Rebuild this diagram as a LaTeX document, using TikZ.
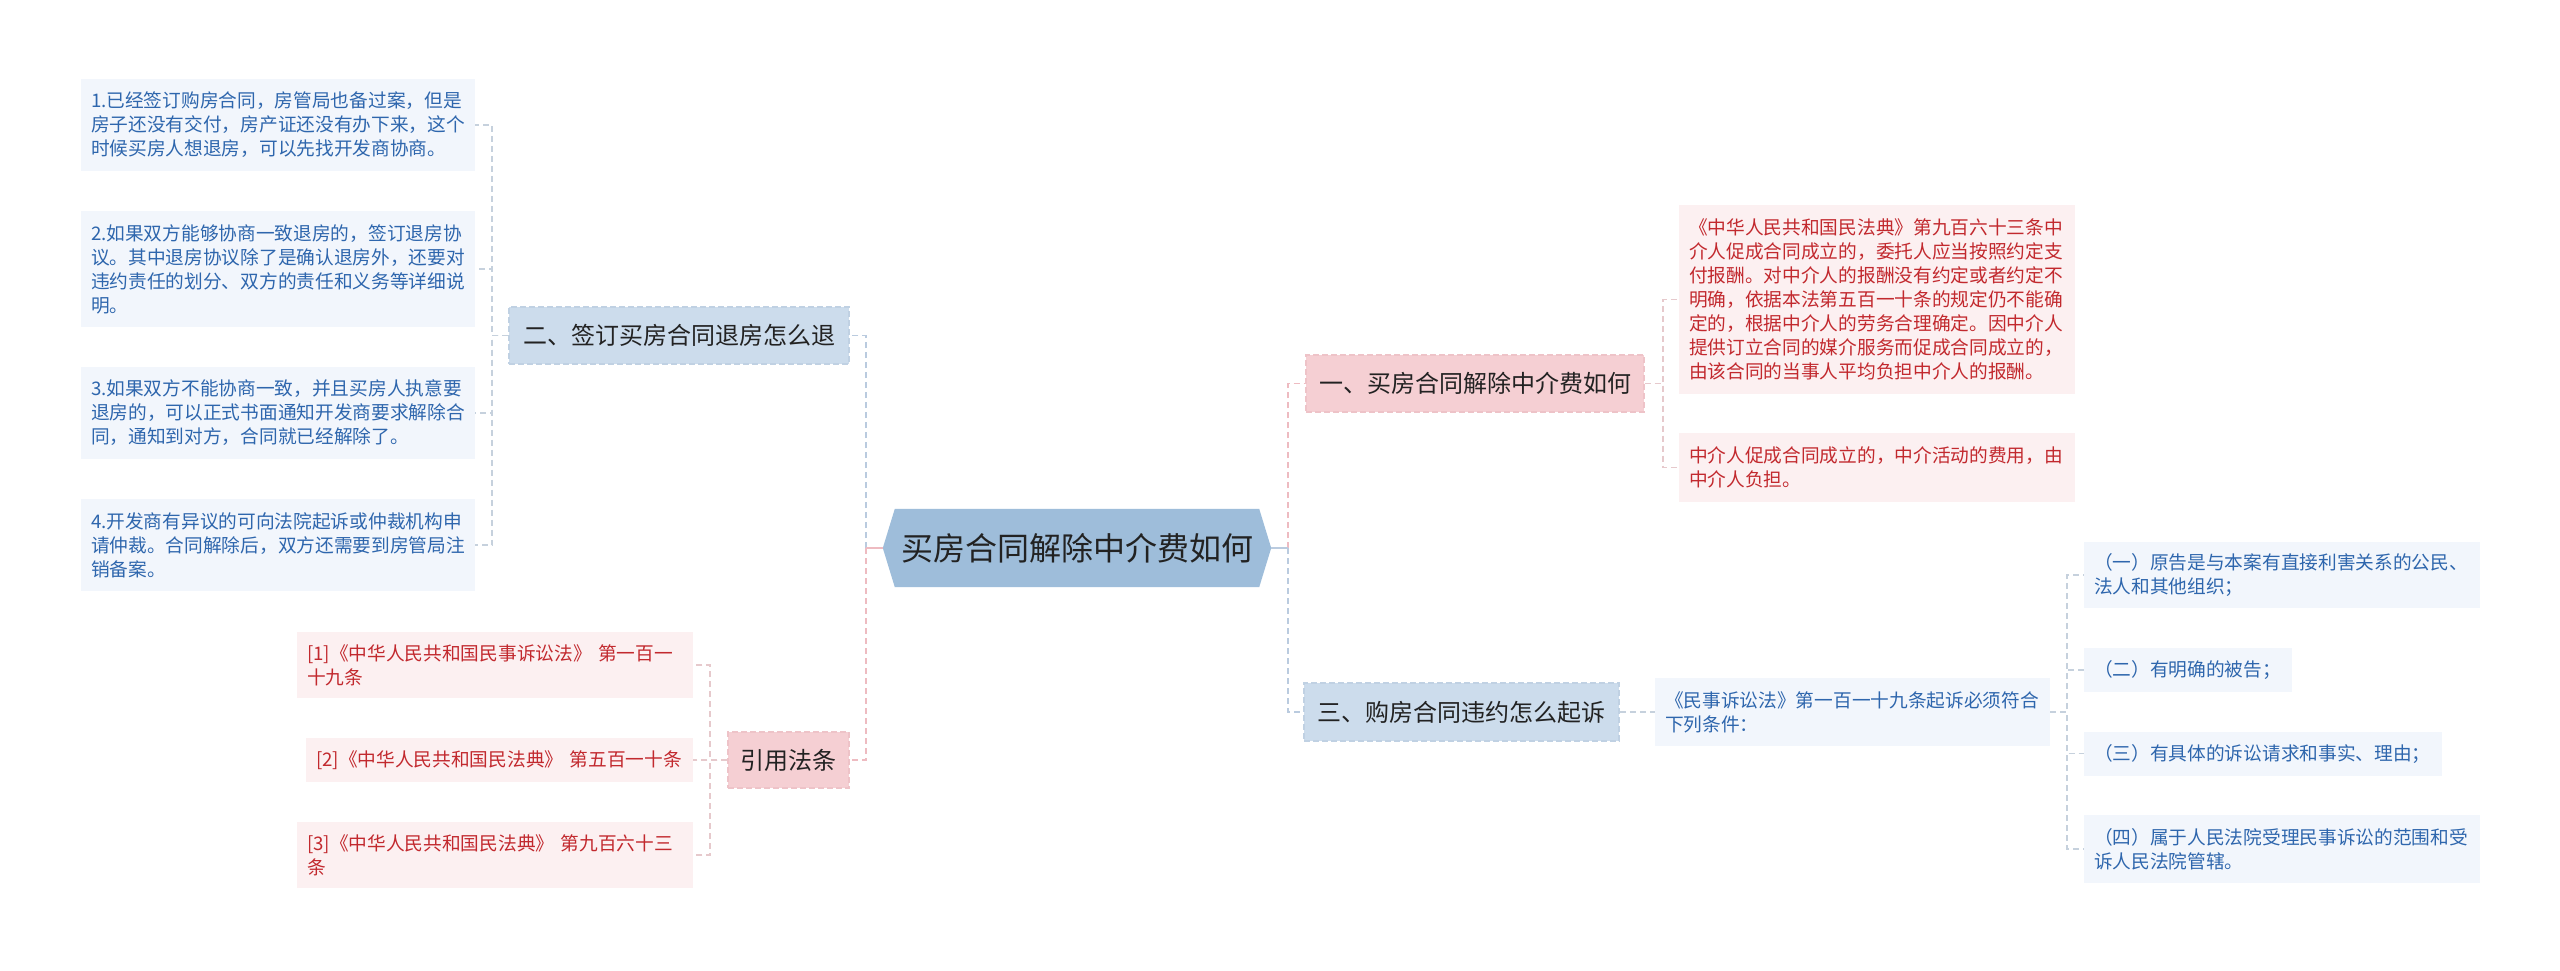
\documentclass[tikz,border=0pt]{standalone}
\usepackage{fontspec}
\setmainfont{Noto Sans CJK SC}
\usetikzlibrary{calc,backgrounds}
\definecolor{cfill}{HTML}{9EBDDA}
\definecolor{hblue}{HTML}{CCDCEC}
\definecolor{hbluebd}{HTML}{C0D1E3}
\definecolor{hpink}{HTML}{F5CFD3}
\definecolor{hpinkbd}{HTML}{EEC3C8}
\definecolor{lblue}{HTML}{F2F6FC}
\definecolor{lpink}{HTML}{FCF0F1}
\definecolor{tblue}{HTML}{2E66AD}
\definecolor{tred}{HTML}{C2292E}
\definecolor{tdark}{HTML}{222222}
\definecolor{lnblue}{HTML}{BACBDF}
\definecolor{lnpink}{HTML}{EEBBC1}
\definecolor{lnblue2}{HTML}{C6D1DD}
\definecolor{lnpink2}{HTML}{E6C9CC}
\begin{document}
\begin{tikzpicture}[x=1pt,y=-1pt,
  conn/.style={line width=1.8pt, dash pattern=on 6pt off 4pt},
  stub/.style={line width=1.8pt},
  leafbase/.style={inner xsep=10pt, inner ysep=0pt, align=left, anchor=center,
    font=\fontsize{18.7pt}{24pt}\selectfont},
  lb/.style={leafbase, fill=lblue, text=tblue},
  lp/.style={leafbase, fill=lpink, text=tred},
  headb/.style={fill=hblue, draw=hbluebd, dash pattern=on 6pt off 3pt, line width=1.5pt, text=tdark,
    inner sep=0pt, font=\fontsize{24pt}{28pt}\selectfont},
  headp/.style={fill=hpink, draw=hpinkbd, dash pattern=on 6pt off 3pt, line width=1.5pt, text=tdark,
    inner sep=0pt, font=\fontsize{24pt}{28pt}\selectfont},
  root/.style={inner sep=0pt, text=tdark, font=\fontsize{32pt}{36pt}\selectfont}
]
\useasboundingbox (0,0) rectangle (2560,970);

% central
\node[root, minimum width=388pt, minimum height=78pt] (c) at (1077,548) {买房合同解除中介费如何};

% left branch: 二
\node[headb, minimum width=340pt, minimum height=57pt] (n2) at (679,335.5) {二、签订买房合同退房怎么退};
\node[lb, text width=374pt, minimum height=92pt] (L1) at (278,125) {1.已经签订购房合同，房管局也备过案，但是\\房子还没有交付，房产证还没有办下来，这个\\时候买房人想退房，可以先找开发商协商。};
\node[lb, text width=374pt, minimum height=116pt] (L2) at (278,269) {2.如果双方能够协商一致退房的，签订退房协\\议。其中退房协议除了是确认退房外，还要对\\违约责任的划分、双方的责任和义务等详细说\\明。};
\node[lb, text width=374pt, minimum height=92pt] (L3) at (278,413) {3.如果双方不能协商一致，并且买房人执意要\\退房的，可以正式书面通知开发商要求解除合\\同，通知到对方，合同就已经解除了。};
\node[lb, text width=374pt, minimum height=92pt] (L4) at (278,545) {4.开发商有异议的可向法院起诉或仲裁机构申\\请仲裁。合同解除后，双方还需要到房管局注\\销备案。};

% left branch: 引用法条
\node[headp, minimum width=121pt, minimum height=56pt] (ref) at (788.5,760) {引用法条};
\node[lp, text width=376pt, minimum height=66pt] (R1) at (495,665) {[1]《中华人民共和国民事诉讼法》 第一百一\\十九条};
\node[lp, text width=367pt, minimum height=44pt] (R2) at (499.5,760) {[2]《中华人民共和国民法典》 第五百一十条};
\node[lp, text width=376pt, minimum height=66pt] (R3) at (495,855) {[3]《中华人民共和国民法典》 第九百六十三\\条};

% right branch: 一
\node[headp, minimum width=338pt, minimum height=57pt] (n1) at (1475,383.5) {一、买房合同解除中介费如何};
\node[lp, text width=376pt, minimum height=189pt] (A) at (1877,299.5) {《中华人民共和国民法典》第九百六十三条中\\介人促成合同成立的，委托人应当按照约定支\\付报酬。对中介人的报酬没有约定或者约定不\\明确，依据本法第五百一十条的规定仍不能确\\定的，根据中介人的劳务合理确定。因中介人\\提供订立合同的媒介服务而促成合同成立的，\\由该合同的当事人平均负担中介人的报酬。};
\node[lp, text width=376pt, minimum height=69pt] (B) at (1877,467.5) {中介人促成合同成立的，中介活动的费用，由\\中介人负担。};

% right branch: 三
\node[headb, minimum width=315pt, minimum height=58pt] (n3) at (1461.5,712) {三、购房合同违约怎么起诉};
\node[lb, text width=375pt, minimum height=68pt] (C) at (1852.5,712) {《民事诉讼法》第一百一十九条起诉必须符合\\下列条件：};
\node[lb, text width=376pt, minimum height=66pt] (D1) at (2282,575) {（一）原告是与本案有直接利害关系的公民、\\法人和其他组织；};
\node[lb, text width=188pt, minimum height=44pt] (D2) at (2188,670) {（二）有明确的被告；};
\node[lb, text width=338pt, minimum height=44pt] (D3) at (2263,753.5) {（三）有具体的诉讼请求和事实、理由；};
\node[lb, text width=376pt, minimum height=68pt] (D4) at (2282,849) {（四）属于人民法院受理民事诉讼的范围和受\\诉人民法院管辖。};

% connectors
\draw[conn, lnblue] (c.west) ++(-17,0) |- (n2.east);
\draw[conn, lnpink] (c.west) ++(-17,0) |- (ref.east);
\draw[stub, lnpink] (c.west) -- ++(-17,0);
\draw[conn, lnpink] (c.east) ++(17,0) |- (n1.west);
\draw[conn, lnblue] (c.east) ++(17,0) |- (n3.west);
\draw[stub, lnblue] (c.east) -- ++(17,0);
\foreach \t in {L1,L2,L3,L4} \draw[conn, lnblue2] (n2.west) -- ++(-16,0) |- (\t.east);
\foreach \t in {R1,R2,R3} \draw[conn, lnpink2] (ref.west) -- ++(-17,0) |- (\t.east);
\foreach \t in {A,B} \draw[conn, lnpink2] (n1.east) -- ++(18,0) |- (\t.west);
\draw[conn, lnblue2] (n3.east) -- (C.west);
\foreach \t in {D1,D2,D3,D4} \draw[conn, lnblue2] (C.east) -- ++(17,0) |- (\t.west);

\begin{scope}[on background layer]
\fill[white] (0,0) rectangle (2560,970);
\fill[cfill] (c.west) -- ($(c.north west)+(12,0)$) -- ($(c.north east)+(-12,0)$) -- (c.east) -- ($(c.south east)+(-12,0)$) -- ($(c.south west)+(12,0)$) -- cycle;
\end{scope}
\end{tikzpicture}
\end{document}
